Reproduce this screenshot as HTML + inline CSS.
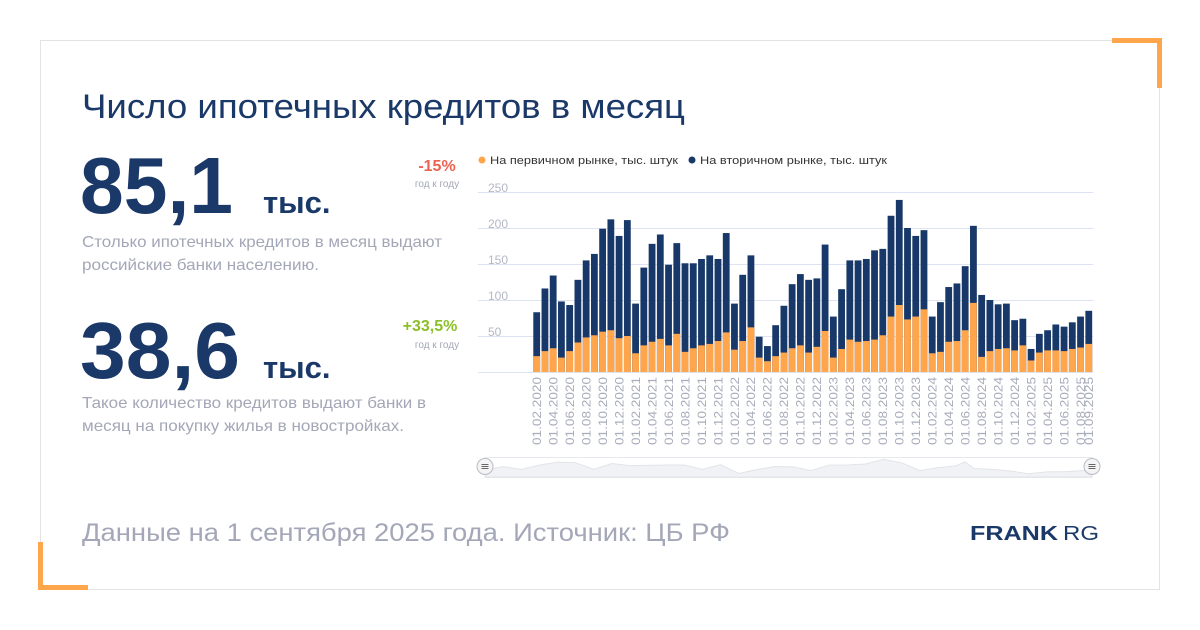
<!DOCTYPE html>
<html><head><meta charset="utf-8"><style>
html,body{margin:0;padding:0;background:#fff;}
svg{display:block;font-family:"Liberation Sans",sans-serif;}
</style></head><body>
<svg width="1200" height="630" viewBox="0 0 1200 630" xmlns="http://www.w3.org/2000/svg">
<rect x="0" y="0" width="1200" height="630" fill="#fff"/>
<rect x="40.5" y="40.5" width="1119" height="549" fill="#fff" stroke="#e3e3e3" stroke-width="1"/>
<path d="M1112 40.5 H1159.5 V88" fill="none" stroke="#ffa64d" stroke-width="5"/>
<path d="M40.5 542 V587.5 H88" fill="none" stroke="#ffa64d" stroke-width="5"/>

<text x="82" y="118" font-size="34" fill="#1a3868" textLength="603" lengthAdjust="spacingAndGlyphs">Число ипотечных кредитов в месяц</text>

<text x="80" y="213" font-size="80" font-weight="bold" fill="#1a3868" textLength="153" lengthAdjust="spacingAndGlyphs">85,1</text>
<text x="263" y="213" font-size="31" font-weight="bold" fill="#1a3868">тыс.</text>
<text x="82" y="247" font-size="16" fill="#a3a7b7" textLength="360" lengthAdjust="spacingAndGlyphs">Столько ипотечных кредитов в месяц выдают</text>
<text x="82" y="270" font-size="16" fill="#a3a7b7" textLength="237" lengthAdjust="spacingAndGlyphs">российские банки населению.</text>
<text x="437" y="171" font-size="16" font-weight="bold" fill="#ec6352" text-anchor="middle">-15%</text>
<text x="437" y="187" font-size="10" fill="#a3a7b7" text-anchor="middle">год к году</text>

<text x="80" y="378" font-size="80" font-weight="bold" fill="#1a3868" textLength="160" lengthAdjust="spacingAndGlyphs">38,6</text>
<text x="263" y="378" font-size="31" font-weight="bold" fill="#1a3868">тыс.</text>
<text x="82" y="408" font-size="16" fill="#a3a7b7" textLength="344" lengthAdjust="spacingAndGlyphs">Такое количество кредитов выдают банки в</text>
<text x="82" y="431" font-size="16" fill="#a3a7b7" textLength="322" lengthAdjust="spacingAndGlyphs">месяц на покупку жилья в новостройках.</text>
<text x="430" y="331" font-size="16" font-weight="bold" fill="#8cbf2a" text-anchor="middle">+33,5%</text>
<text x="437" y="348" font-size="10" fill="#a3a7b7" text-anchor="middle">год к году</text>

<text x="82" y="541" font-size="25" fill="#a3a7b7" textLength="648" lengthAdjust="spacingAndGlyphs">Данные на 1 сентября 2025 года. Источник: ЦБ РФ</text>
<text x="970" y="540" font-size="20" font-weight="bold" fill="#1a3868" textLength="88" lengthAdjust="spacingAndGlyphs">FRANK</text>
<text x="1063" y="540" font-size="20" fill="#1a3868" textLength="36" lengthAdjust="spacingAndGlyphs">RG</text>

<!-- legend -->
<circle cx="482" cy="160" r="3.5" fill="#ffa64d"/>
<text x="490" y="164" font-size="11" fill="#333" textLength="188" lengthAdjust="spacingAndGlyphs">На первичном рынке, тыс. штук</text>
<circle cx="692" cy="160" r="3.5" fill="#1a3868"/>
<text x="700" y="164" font-size="11" fill="#333" textLength="187" lengthAdjust="spacingAndGlyphs">На вторичном рынке, тыс. штук</text>

<!-- grid -->
<g stroke="#dde3f3" stroke-width="1">
<line x1="478" y1="192.5" x2="1093" y2="192.5"/>
<line x1="478" y1="228.5" x2="1093" y2="228.5"/>
<line x1="478" y1="264.5" x2="1093" y2="264.5"/>
<line x1="478" y1="300.5" x2="1093" y2="300.5"/>
<line x1="478" y1="336.5" x2="1093" y2="336.5"/>
<line x1="478" y1="372.5" x2="1093" y2="372.5"/>
</g>
<g font-size="12" fill="#b4b8c5">
<text x="488" y="192">250</text>
<text x="488" y="228">200</text>
<text x="488" y="264">150</text>
<text x="488" y="300">100</text>
<text x="488" y="336">50</text>
</g>

<!-- bars -->
<g transform="translate(533.3,372) scale(1,-0.72)">
<g fill="#173868">
<rect x="0" y="0" width="6.8" height="83"/><rect x="8.24" y="0" width="6.8" height="116"/><rect x="16.48" y="0" width="6.8" height="134"/><rect x="24.72" y="0" width="6.8" height="98"/><rect x="32.96" y="0" width="6.8" height="93"/><rect x="41.2" y="0" width="6.8" height="128"/><rect x="49.44" y="0" width="6.8" height="155"/><rect x="57.68" y="0" width="6.8" height="164"/><rect x="65.92" y="0" width="6.8" height="199"/><rect x="74.16" y="0" width="6.8" height="212"/><rect x="82.4" y="0" width="6.8" height="189"/><rect x="90.64" y="0" width="6.8" height="211"/><rect x="98.88" y="0" width="6.8" height="95"/><rect x="107.12" y="0" width="6.8" height="145"/><rect x="115.36" y="0" width="6.8" height="178"/><rect x="123.6" y="0" width="6.8" height="191"/><rect x="131.84" y="0" width="6.8" height="149"/><rect x="140.08" y="0" width="6.8" height="179"/><rect x="148.32" y="0" width="6.8" height="151"/><rect x="156.56" y="0" width="6.8" height="151"/><rect x="164.8" y="0" width="6.8" height="157"/><rect x="173.04" y="0" width="6.8" height="162"/><rect x="181.28" y="0" width="6.8" height="157"/><rect x="189.52" y="0" width="6.8" height="193"/><rect x="197.76" y="0" width="6.8" height="95"/><rect x="206" y="0" width="6.8" height="135"/><rect x="214.24" y="0" width="6.8" height="162"/><rect x="222.48" y="0" width="6.8" height="49"/><rect x="230.72" y="0" width="6.8" height="36"/><rect x="238.96" y="0" width="6.8" height="65"/><rect x="247.2" y="0" width="6.8" height="92"/><rect x="255.44" y="0" width="6.8" height="122"/><rect x="263.68" y="0" width="6.8" height="136"/><rect x="271.92" y="0" width="6.8" height="128"/><rect x="280.16" y="0" width="6.8" height="130"/><rect x="288.4" y="0" width="6.8" height="177"/><rect x="296.64" y="0" width="6.8" height="77"/><rect x="304.88" y="0" width="6.8" height="115"/><rect x="313.12" y="0" width="6.8" height="155"/><rect x="321.36" y="0" width="6.8" height="155"/><rect x="329.6" y="0" width="6.8" height="157"/><rect x="337.84" y="0" width="6.8" height="169"/><rect x="346.08" y="0" width="6.8" height="171"/><rect x="354.32" y="0" width="6.8" height="217"/><rect x="362.56" y="0" width="6.8" height="239"/><rect x="370.8" y="0" width="6.8" height="200"/><rect x="379.04" y="0" width="6.8" height="189"/><rect x="387.28" y="0" width="6.8" height="197"/><rect x="395.52" y="0" width="6.8" height="77"/><rect x="403.76" y="0" width="6.8" height="97"/><rect x="412" y="0" width="6.8" height="118"/><rect x="420.24" y="0" width="6.8" height="123"/><rect x="428.48" y="0" width="6.8" height="147"/><rect x="436.72" y="0" width="6.8" height="203"/><rect x="444.96" y="0" width="6.8" height="107"/><rect x="453.2" y="0" width="6.8" height="100"/><rect x="461.44" y="0" width="6.8" height="94"/><rect x="469.68" y="0" width="6.8" height="95"/><rect x="477.92" y="0" width="6.8" height="72"/><rect x="486.16" y="0" width="6.8" height="74"/><rect x="494.4" y="0" width="6.8" height="32"/><rect x="502.64" y="0" width="6.8" height="53"/><rect x="510.88" y="0" width="6.8" height="58"/><rect x="519.12" y="0" width="6.8" height="66"/><rect x="527.36" y="0" width="6.8" height="63"/><rect x="535.6" y="0" width="6.8" height="69"/><rect x="543.84" y="0" width="6.8" height="77"/><rect x="552.08" y="0" width="6.8" height="85"/>
</g>
<g fill="#ffa64d">
<rect x="0" y="0" width="6.8" height="22"/><rect x="8.24" y="0" width="6.8" height="29"/><rect x="16.48" y="0" width="6.8" height="33"/><rect x="24.72" y="0" width="6.8" height="20"/><rect x="32.96" y="0" width="6.8" height="29"/><rect x="41.2" y="0" width="6.8" height="41"/><rect x="49.44" y="0" width="6.8" height="48"/><rect x="57.68" y="0" width="6.8" height="51"/><rect x="65.92" y="0" width="6.8" height="56"/><rect x="74.16" y="0" width="6.8" height="58"/><rect x="82.4" y="0" width="6.8" height="47"/><rect x="90.64" y="0" width="6.8" height="50"/><rect x="98.88" y="0" width="6.8" height="26"/><rect x="107.12" y="0" width="6.8" height="37"/><rect x="115.36" y="0" width="6.8" height="42"/><rect x="123.6" y="0" width="6.8" height="46"/><rect x="131.84" y="0" width="6.8" height="37"/><rect x="140.08" y="0" width="6.8" height="53"/><rect x="148.32" y="0" width="6.8" height="28"/><rect x="156.56" y="0" width="6.8" height="33"/><rect x="164.8" y="0" width="6.8" height="37"/><rect x="173.04" y="0" width="6.8" height="39"/><rect x="181.28" y="0" width="6.8" height="43"/><rect x="189.52" y="0" width="6.8" height="55"/><rect x="197.76" y="0" width="6.8" height="31"/><rect x="206" y="0" width="6.8" height="43"/><rect x="214.24" y="0" width="6.8" height="62"/><rect x="222.48" y="0" width="6.8" height="20"/><rect x="230.72" y="0" width="6.8" height="15"/><rect x="238.96" y="0" width="6.8" height="22"/><rect x="247.2" y="0" width="6.8" height="27"/><rect x="255.44" y="0" width="6.8" height="33"/><rect x="263.68" y="0" width="6.8" height="37"/><rect x="271.92" y="0" width="6.8" height="27"/><rect x="280.16" y="0" width="6.8" height="35"/><rect x="288.4" y="0" width="6.8" height="57"/><rect x="296.64" y="0" width="6.8" height="20"/><rect x="304.88" y="0" width="6.8" height="32"/><rect x="313.12" y="0" width="6.8" height="45"/><rect x="321.36" y="0" width="6.8" height="42"/><rect x="329.6" y="0" width="6.8" height="43"/><rect x="337.84" y="0" width="6.8" height="45"/><rect x="346.08" y="0" width="6.8" height="51"/><rect x="354.32" y="0" width="6.8" height="77"/><rect x="362.56" y="0" width="6.8" height="93"/><rect x="370.8" y="0" width="6.8" height="73"/><rect x="379.04" y="0" width="6.8" height="77"/><rect x="387.28" y="0" width="6.8" height="87"/><rect x="395.52" y="0" width="6.8" height="26"/><rect x="403.76" y="0" width="6.8" height="28"/><rect x="412" y="0" width="6.8" height="42"/><rect x="420.24" y="0" width="6.8" height="43"/><rect x="428.48" y="0" width="6.8" height="58"/><rect x="436.72" y="0" width="6.8" height="96"/><rect x="444.96" y="0" width="6.8" height="21"/><rect x="453.2" y="0" width="6.8" height="29"/><rect x="461.44" y="0" width="6.8" height="32"/><rect x="469.68" y="0" width="6.8" height="33"/><rect x="477.92" y="0" width="6.8" height="30"/><rect x="486.16" y="0" width="6.8" height="37"/><rect x="494.4" y="0" width="6.8" height="16"/><rect x="502.64" y="0" width="6.8" height="27"/><rect x="510.88" y="0" width="6.8" height="30"/><rect x="519.12" y="0" width="6.8" height="30"/><rect x="527.36" y="0" width="6.8" height="29"/><rect x="535.6" y="0" width="6.8" height="32"/><rect x="543.84" y="0" width="6.8" height="34"/><rect x="552.08" y="0" width="6.8" height="39"/>
</g>
</g>

<!-- x labels -->
<g font-size="12" fill="#a8acbb" text-anchor="end">
<text transform="translate(541,377) rotate(-90)" textLength="68" lengthAdjust="spacingAndGlyphs">01.02.2020</text>
<text transform="translate(557.5,377) rotate(-90)" textLength="68" lengthAdjust="spacingAndGlyphs">01.04.2020</text>
<text transform="translate(574,377) rotate(-90)" textLength="68" lengthAdjust="spacingAndGlyphs">01.06.2020</text>
<text transform="translate(590.4,377) rotate(-90)" textLength="68" lengthAdjust="spacingAndGlyphs">01.08.2020</text>
<text transform="translate(606.9,377) rotate(-90)" textLength="68" lengthAdjust="spacingAndGlyphs">01.10.2020</text>
<text transform="translate(623.4,377) rotate(-90)" textLength="68" lengthAdjust="spacingAndGlyphs">01.12.2020</text>
<text transform="translate(639.9,377) rotate(-90)" textLength="68" lengthAdjust="spacingAndGlyphs">01.02.2021</text>
<text transform="translate(656.4,377) rotate(-90)" textLength="68" lengthAdjust="spacingAndGlyphs">01.04.2021</text>
<text transform="translate(672.8,377) rotate(-90)" textLength="68" lengthAdjust="spacingAndGlyphs">01.06.2021</text>
<text transform="translate(689.3,377) rotate(-90)" textLength="68" lengthAdjust="spacingAndGlyphs">01.08.2021</text>
<text transform="translate(705.8,377) rotate(-90)" textLength="68" lengthAdjust="spacingAndGlyphs">01.10.2021</text>
<text transform="translate(722.3,377) rotate(-90)" textLength="68" lengthAdjust="spacingAndGlyphs">01.12.2021</text>
<text transform="translate(738.8,377) rotate(-90)" textLength="68" lengthAdjust="spacingAndGlyphs">01.02.2022</text>
<text transform="translate(755.2,377) rotate(-90)" textLength="68" lengthAdjust="spacingAndGlyphs">01.04.2022</text>
<text transform="translate(771.7,377) rotate(-90)" textLength="68" lengthAdjust="spacingAndGlyphs">01.06.2022</text>
<text transform="translate(788.2,377) rotate(-90)" textLength="68" lengthAdjust="spacingAndGlyphs">01.08.2022</text>
<text transform="translate(804.7,377) rotate(-90)" textLength="68" lengthAdjust="spacingAndGlyphs">01.10.2022</text>
<text transform="translate(821.2,377) rotate(-90)" textLength="68" lengthAdjust="spacingAndGlyphs">01.12.2022</text>
<text transform="translate(837.6,377) rotate(-90)" textLength="68" lengthAdjust="spacingAndGlyphs">01.02.2023</text>
<text transform="translate(854.1,377) rotate(-90)" textLength="68" lengthAdjust="spacingAndGlyphs">01.04.2023</text>
<text transform="translate(870.6,377) rotate(-90)" textLength="68" lengthAdjust="spacingAndGlyphs">01.06.2023</text>
<text transform="translate(887.1,377) rotate(-90)" textLength="68" lengthAdjust="spacingAndGlyphs">01.08.2023</text>
<text transform="translate(903.6,377) rotate(-90)" textLength="68" lengthAdjust="spacingAndGlyphs">01.10.2023</text>
<text transform="translate(920,377) rotate(-90)" textLength="68" lengthAdjust="spacingAndGlyphs">01.12.2023</text>
<text transform="translate(936.5,377) rotate(-90)" textLength="68" lengthAdjust="spacingAndGlyphs">01.02.2024</text>
<text transform="translate(953,377) rotate(-90)" textLength="68" lengthAdjust="spacingAndGlyphs">01.04.2024</text>
<text transform="translate(969.5,377) rotate(-90)" textLength="68" lengthAdjust="spacingAndGlyphs">01.06.2024</text>
<text transform="translate(986,377) rotate(-90)" textLength="68" lengthAdjust="spacingAndGlyphs">01.08.2024</text>
<text transform="translate(1002.4,377) rotate(-90)" textLength="68" lengthAdjust="spacingAndGlyphs">01.10.2024</text>
<text transform="translate(1018.9,377) rotate(-90)" textLength="68" lengthAdjust="spacingAndGlyphs">01.12.2024</text>
<text transform="translate(1035.4,377) rotate(-90)" textLength="68" lengthAdjust="spacingAndGlyphs">01.02.2025</text>
<text transform="translate(1051.9,377) rotate(-90)" textLength="68" lengthAdjust="spacingAndGlyphs">01.04.2025</text>
<text transform="translate(1068.4,377) rotate(-90)" textLength="68" lengthAdjust="spacingAndGlyphs">01.06.2025</text>
<text transform="translate(1084.8,377) rotate(-90)" textLength="68" lengthAdjust="spacingAndGlyphs">01.08.2025</text>
<text transform="translate(1093,377) rotate(-90)" textLength="68" lengthAdjust="spacingAndGlyphs">01.09.2025</text>
</g>

<!-- navigator -->
<rect x="485" y="457.5" width="607" height="20" fill="#fff" stroke="#e6e8ee"/>
<path d="M485 477 L485 470.2 L503.1 466.6 L521.2 469.5 L539.4 465.1 L557.5 462.1 L575.6 462.8 L593.7 469.3 L611.8 463.5 L629.9 465.6 L648.1 465.4 L666.2 465 L684.3 465 L702.4 469.3 L720.5 464.7 L738.6 473.5 L756.8 469.6 L774.9 466.5 L793 466.9 L811.1 470.6 L829.2 465.1 L847.3 465 L865.4 464 L883.6 459.3 L901.7 462.8 L919.8 470.6 L937.9 467.7 L956 465.7 L965 461.8 L974.2 468.5 L992.3 469.4 L1010.4 471 L1028.5 473.8 L1046.6 471.9 L1064.8 471.6 L1082.9 470.6 L1092 470 L1092 477 Z" fill="#f1f2f5" stroke="#e2e4ea" stroke-width="1"/>
<g>
<circle cx="485" cy="466.5" r="8" fill="#f4f4f4" stroke="#b8bcc6"/>
<path d="M481.5 464.5h7M481.5 466.5h7M481.5 468.5h7" stroke="#666" stroke-width="1"/>
<circle cx="1092" cy="466.5" r="8" fill="#f4f4f4" stroke="#b8bcc6"/>
<path d="M1088.5 464.5h7M1088.5 466.5h7M1088.5 468.5h7" stroke="#666" stroke-width="1"/>
</g>
</svg>
</body></html>
